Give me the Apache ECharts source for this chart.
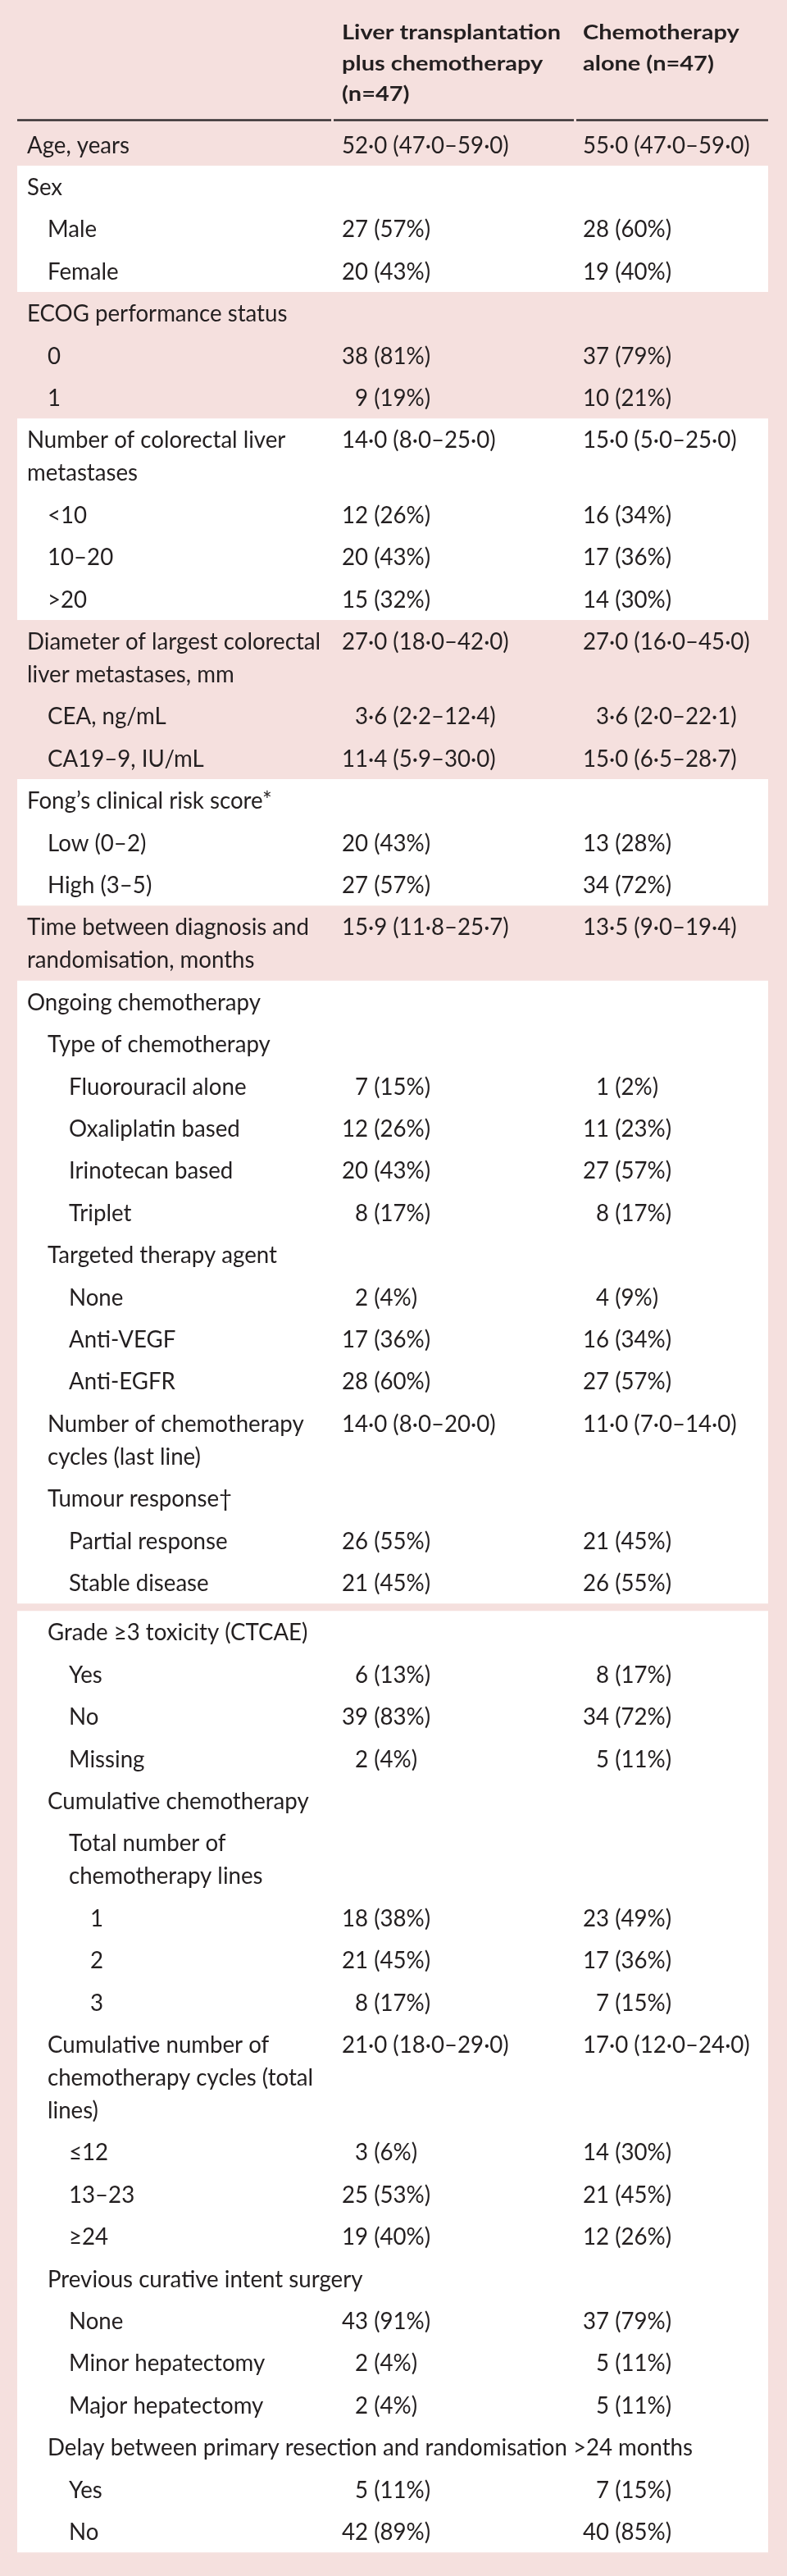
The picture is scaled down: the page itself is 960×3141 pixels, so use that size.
<!DOCTYPE html>
<html>
<head>
<meta charset="utf-8">
<script src="https://cdn.jsdelivr.net/npm/echarts@6/dist/echarts.min.js"></script>
<style>
html,body{margin:0;padding:0;background:#f5e0de;}
#main{width:960px;height:3141px;}
</style>
</head>
<body>
<div id="main"></div>
<script>
// ---------------- DATA ----------------
const headerLiver = ['Liver transplantation', 'plus chemotherapy', '(n=47)'];
const headerChemo = ['Chemotherapy', 'alone (n=47)'];

const rowLabels = [
  'Age, years',
  'Sex', 'Male', 'Female',
  'ECOG performance status', '0', '1',
  'Number of colorectal liver\nmetastases', '<10', '10\u201320', '>20',
  'Diameter of largest colorectal\nliver metastases, mm', 'CEA, ng/mL', 'CA19\u20139, IU/mL',
  'Fong\u2019s clinical risk score*', 'Low (0\u20132)', 'High (3\u20135)',
  'Time between diagnosis and\nrandomisation, months',
  'Ongoing chemotherapy', 'Type of chemotherapy', 'Fluorouracil alone', 'Oxaliplatin based',
  'Irinotecan based', 'Triplet', 'Targeted therapy agent', 'None', 'Anti-VEGF', 'Anti-EGFR',
  'Number of chemotherapy\ncycles (last line)', 'Tumour response\u2020', 'Partial response', 'Stable disease',
  'Grade \u22653 toxicity (CTCAE)', 'Yes', 'No', 'Missing',
  'Cumulative chemotherapy', 'Total number of\nchemotherapy lines', '1', '2', '3',
  'Cumulative number of\nchemotherapy cycles (total\nlines)', '\u226412', '13\u201323', '\u226524',
  'Previous curative intent surgery', 'None', 'Minor hepatectomy', 'Major hepatectomy',
  'Delay between primary resection and randomisation >24 months', 'Yes', 'No'
];

const rowLevels = [
  0,
  0, 1, 1,
  0, 1, 1,
  0, 1, 1, 1,
  0, 1, 1,
  0, 1, 1,
  0,
  0, 1, 2, 2, 2, 2, 1, 2, 2, 2, 1, 1, 2, 2,
  1, 2, 2, 2,
  1, 2, 3, 3, 3,
  1, 2, 2, 2,
  1, 2, 2, 2,
  1, 2, 2
];

const rowGroups = [
  0,
  1, 1, 1,
  2, 2, 2,
  3, 3, 3, 3,
  4, 4, 4,
  5, 5, 5,
  6,
  7, 7, 7, 7, 7, 7, 7, 7, 7, 7, 7, 7, 7, 7,
  8, 8, 8, 8, 8, 8, 8, 8, 8, 8, 8, 8, 8, 8, 8, 8, 8, 8, 8, 8
];
const groupIsWhite = [false, true, false, true, false, true, false, true, true];

const liverValues = [
  '52\u00b70 (47\u00b70\u201359\u00b70)',
  '', '27 (57%)', '20 (43%)',
  '', '38 (81%)', '9 (19%)',
  '14\u00b70 (8\u00b70\u201325\u00b70)', '12 (26%)', '20 (43%)', '15 (32%)',
  '27\u00b70 (18\u00b70\u201342\u00b70)', '3\u00b76 (2\u00b72\u201312\u00b74)', '11\u00b74 (5\u00b79\u201330\u00b70)',
  '', '20 (43%)', '27 (57%)',
  '15\u00b79 (11\u00b78\u201325\u00b77)',
  '', '', '7 (15%)', '12 (26%)', '20 (43%)', '8 (17%)', '', '2 (4%)', '17 (36%)', '28 (60%)',
  '14\u00b70 (8\u00b70\u201320\u00b70)', '', '26 (55%)', '21 (45%)',
  '', '6 (13%)', '39 (83%)', '2 (4%)',
  '', '', '18 (38%)', '21 (45%)', '8 (17%)',
  '21\u00b70 (18\u00b70\u201329\u00b70)', '3 (6%)', '25 (53%)', '19 (40%)',
  '', '43 (91%)', '2 (4%)', '2 (4%)',
  '', '5 (11%)', '42 (89%)'
];

const chemoValues = [
  '55\u00b70 (47\u00b70\u201359\u00b70)',
  '', '28 (60%)', '19 (40%)',
  '', '37 (79%)', '10 (21%)',
  '15\u00b70 (5\u00b70\u201325\u00b70)', '16 (34%)', '17 (36%)', '14 (30%)',
  '27\u00b70 (16\u00b70\u201345\u00b70)', '3\u00b76 (2\u00b70\u201322\u00b71)', '15\u00b70 (6\u00b75\u201328\u00b77)',
  '', '13 (28%)', '34 (72%)',
  '13\u00b75 (9\u00b70\u201319\u00b74)',
  '', '', '1 (2%)', '11 (23%)', '27 (57%)', '8 (17%)', '', '4 (9%)', '16 (34%)', '27 (57%)',
  '11\u00b70 (7\u00b70\u201314\u00b70)', '', '21 (45%)', '26 (55%)',
  '', '8 (17%)', '34 (72%)', '5 (11%)',
  '', '', '23 (49%)', '17 (36%)', '7 (15%)',
  '17\u00b70 (12\u00b70\u201324\u00b70)', '14 (30%)', '21 (45%)', '12 (26%)',
  '', '37 (79%)', '5 (11%)', '5 (11%)',
  '', '7 (15%)', '40 (85%)'
];

// ---------------- LAYOUT / STYLE ----------------
const W = 960, H = 3141;
const PINK = '#f5e0de', WHITE = '#ffffff', INK = '#231f20';
const BOX_L = 21, BOX_R = 937;
const INDENT = [33, 58, 84, 110];
const COL1 = 417, COL2 = 711;
const FIRST_TOP = 150.5, ROW_H = 51.4, LINE_H = 40, WHITE_GAP = 9, TEXT_OFF = 27;
const HEAD_Y0 = 39.5, HEAD_LH = 37.8, RULE_Y = 146.5;
const FAMILY = 'Lato, "DejaVu Sans", sans-serif';
const FONT = '28.5px ' + FAMILY;
const FONT_B = 'bold 25.5px ' + FAMILY;

// horizontal calibration so that text widths match the reference
const mctx = document.createElement('canvas').getContext('2d');
function mw(font, s) { mctx.font = font; return mctx.measureText(s).width; }
const SX = 787 / mw(FONT, 'Delay between primary resection and randomisation >24 months');
const SXB = 267 / mw(FONT_B, 'Liver transplantation');
const DIGIT_W = mw(FONT, '0') * SX;

// compute row positions from line counts
const rowTop = [], rowBottom = [];
let yCur = FIRST_TOP;
rowLabels.forEach((lab, i) => {
  if (i > 0 && rowGroups[i] !== rowGroups[i - 1] &&
      groupIsWhite[rowGroups[i]] && groupIsWhite[rowGroups[i - 1]]) yCur += WHITE_GAP;
  const n = lab.split('\n').length;
  rowTop[i] = yCur;
  yCur += ROW_H + (n - 1) * LINE_H;
  rowBottom[i] = yCur;
});

// white bands
const bandData = [];
groupIsWhite.forEach((white, g) => {
  if (!white) return;
  let t = Infinity, b = -Infinity;
  rowGroups.forEach((gg, i) => { if (gg === g) { t = Math.min(t, rowTop[i]); b = Math.max(b, rowBottom[i]); } });
  bandData.push([BOX_L, t, BOX_R, b]);
});

// text cells
const cells = [];
const cellData = [];
function addCell(x, y, text, font, sx) {
  cells.push({ text, font, sx });
  cellData.push([x, y, cells.length - 1]);
}
function valX(col, v) { return /^\d\D/.test(v) ? col + DIGIT_W : col; }
headerLiver.forEach((t, k) => addCell(COL1, HEAD_Y0 + k * HEAD_LH, t, FONT_B, SXB));
headerChemo.forEach((t, k) => addCell(COL2, HEAD_Y0 + k * HEAD_LH, t, FONT_B, SXB));
rowLabels.forEach((lab, i) => {
  const y0 = rowTop[i] + TEXT_OFF;
  lab.split('\n').forEach((ln, k) => addCell(INDENT[rowLevels[i]], y0 + k * LINE_H, ln, FONT, SX));
  if (liverValues[i]) addCell(valX(COL1, liverValues[i]), y0, liverValues[i], FONT, SX);
  if (chemoValues[i]) addCell(valX(COL2, chemoValues[i]), y0, chemoValues[i], FONT, SX);
});

const ruleData = [[BOX_L, RULE_Y, 404, RULE_Y], [407, RULE_Y, 700, RULE_Y], [703, RULE_Y, BOX_R, RULE_Y]];

const chart = echarts.init(document.getElementById('main'), null, { renderer: 'canvas', width: W, height: H });
chart.setOption({
  animation: false,
  backgroundColor: PINK,
  grid: { left: 0, right: 0, top: 0, bottom: 0 },
  xAxis: { type: 'value', min: 0, max: W, show: false },
  yAxis: { type: 'value', min: 0, max: H, inverse: true, show: false },
  series: [
    {
      type: 'custom', name: 'bands', data: bandData, encode: { x: [0, 2], y: [1, 3] }, clip: false, silent: true,
      renderItem(params, api) {
        const p0 = api.coord([api.value(0), api.value(1)]);
        const p1 = api.coord([api.value(2), api.value(3)]);
        return { type: 'rect', shape: { x: p0[0], y: p0[1], width: p1[0] - p0[0], height: p1[1] - p0[1] }, style: { fill: WHITE } };
      }
    },
    {
      type: 'custom', name: 'rule', data: ruleData, encode: { x: [0, 2], y: [1, 3] }, clip: false, silent: true,
      renderItem(params, api) {
        const p0 = api.coord([api.value(0), api.value(1)]);
        const p1 = api.coord([api.value(2), api.value(3)]);
        return { type: 'line', shape: { x1: p0[0], y1: p0[1], x2: p1[0], y2: p1[1] }, style: { stroke: '#353132', lineWidth: 2.5 } };
      }
    },
    {
      type: 'custom', name: 'cells', data: cellData, encode: { x: 0, y: 1 }, clip: false, silent: true,
      renderItem(params, api) {
        const c = cells[api.value(2)];
        const p = api.coord([api.value(0), api.value(1)]);
        return {
          type: 'text',
          x: p[0], y: p[1], scaleX: c.sx, scaleY: 1,
          style: {
            text: c.text, x: 0, y: 0, fill: INK, font: c.font,
            textAlign: 'left', textVerticalAlign: 'middle', align: 'left', verticalAlign: 'middle'
          }
        };
      }
    }
  ]
});
</script>
</body>
</html>
